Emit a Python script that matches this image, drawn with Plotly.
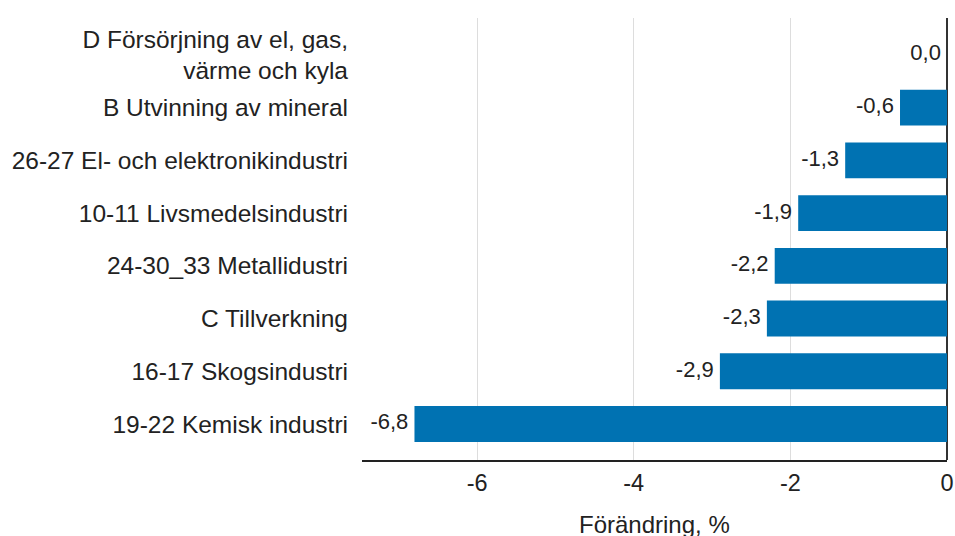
import plotly.graph_objects as go

categories = [
    "19-22 Kemisk industri",
    "16-17 Skogsindustri",
    "C Tillverkning",
    "24-30_33 Metallidustri",
    "10-11 Livsmedelsindustri",
    "26-27 El- och elektronikindustri",
    "B Utvinning av mineral",
    "D Försörjning av el, gas,<br>värme och kyla",
]
values = [-6.8, -2.9, -2.3, -2.2, -1.9, -1.3, -0.6, 0.0]
x_ticks = [-6, -4, -2, 0]
x_title = "Förändring, %"

FONT = "Liberation Sans, Arial, sans-serif"
BAR = "#0072b2"
TXT = "#222222"

fig = go.Figure()
fig.add_trace(
    go.Bar(
        x=values,
        y=categories,
        orientation="h",
        marker=dict(color=BAR, line=dict(width=0)),
        width=0.68,
        hoverinfo="x+y",
    )
)
fig.add_trace(
    go.Scatter(
        x=values,
        y=categories,
        mode="text",
        texttemplate="%{x:.1f}\u00a0",
        textposition="middle left",
        textfont=dict(family=FONT, size=22, color=TXT),
        cliponaxis=False,
        hoverinfo="skip",
    )
)

fig.update_layout(
    width=955,
    height=536,
    margin=dict(l=362, r=8, t=18, b=76),
    paper_bgcolor="white",
    plot_bgcolor="white",
    separators=", ",
    showlegend=False,
    font=dict(family=FONT, color=TXT),
)
fig.update_xaxes(
    range=[-7.47, 0],
    tickvals=x_ticks,
    ticktext=[str(t) for t in x_ticks],
    tickfont=dict(size=23.5, color=TXT),
    ticklabeloverflow="allow",
    showgrid=True,
    gridcolor="#dddddd",
    gridwidth=1,
    zeroline=True,
    zerolinecolor="#333333",
    zerolinewidth=1.5,
    showline=True,
    linecolor="#222222",
    linewidth=1.5,
    ticks="",
    ticklabelstandoff=1,
    automargin=False,
)
fig.add_annotation(
    text=x_title,
    xref="paper",
    yref="paper",
    x=0.5,
    y=0,
    xanchor="center",
    yanchor="middle",
    yshift=-64,
    showarrow=False,
    font=dict(family=FONT, size=24, color=TXT),
)
fig.update_yaxes(
    type="category",
    categoryorder="array",
    categoryarray=categories,
    range=[-0.683, 7.70],
    tickfont=dict(size=24.5, color=TXT),
    showgrid=False,
    ticks="",
    ticklabelstandoff=13,
    automargin=False,
)

fig.write_html(
    "out.html",
    config={"displayModeBar": False},
    post_script="document.body.style.margin='0';"
    "document.body.style.overflow='hidden';",
)
